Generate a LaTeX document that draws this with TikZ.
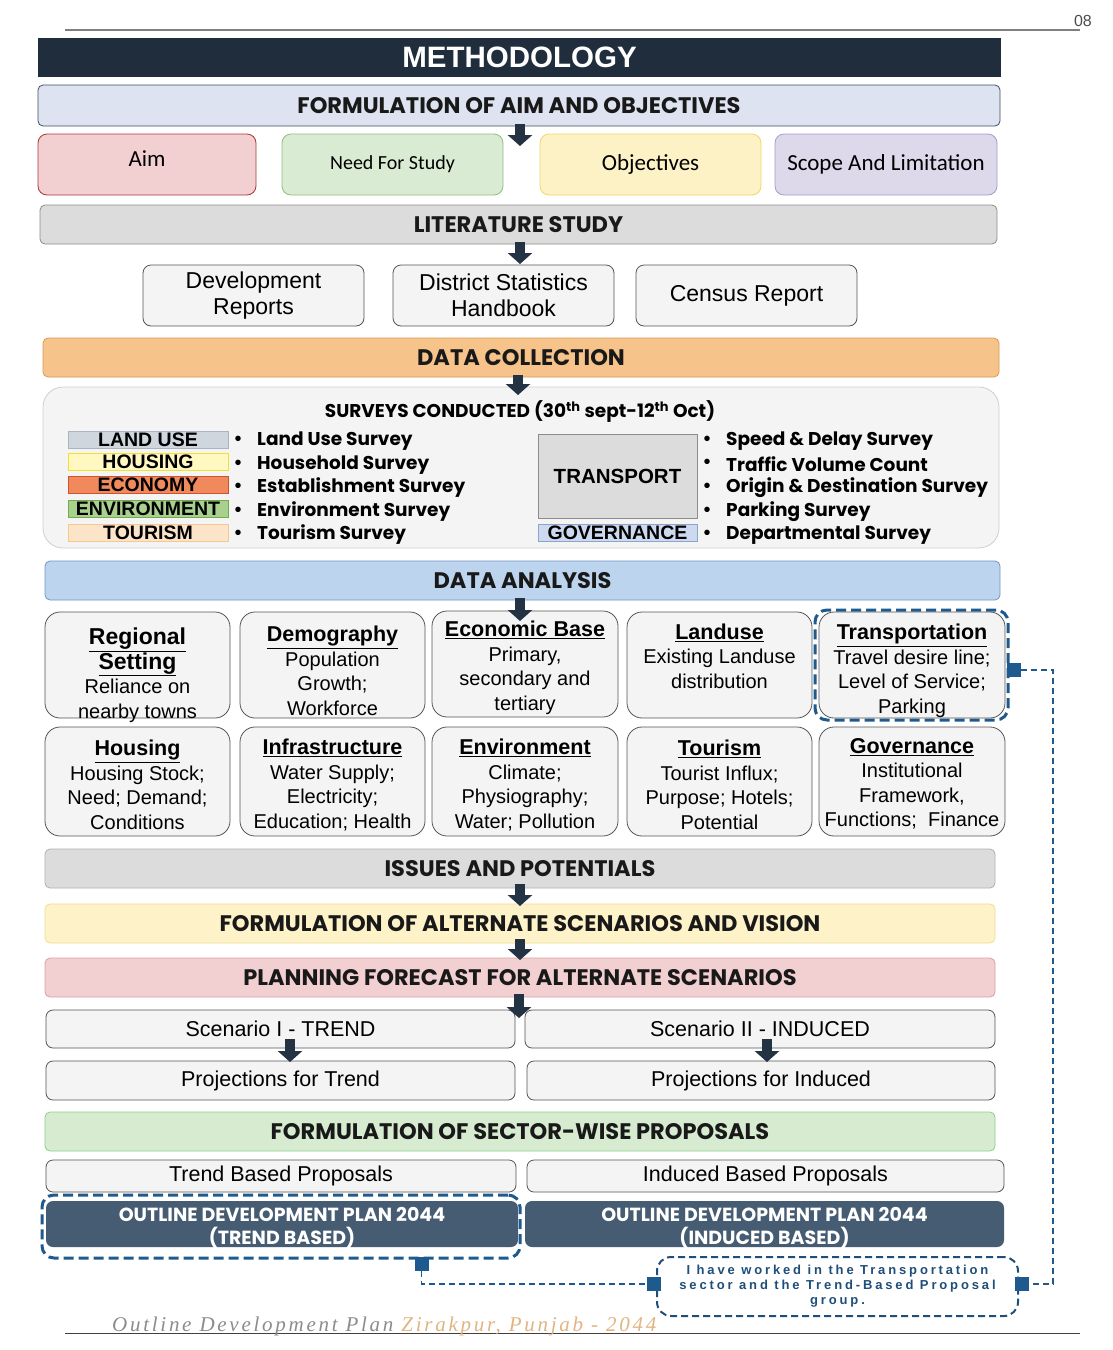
\documentclass[tikz,border=0pt]{standalone}
\usepackage{fontspec}
\setmainfont{Liberation Sans}
\newfontfamily\gothic{Poppins}
\newfontfamily\calib{Carlito}
\newfontfamily\notefont[LetterSpace=22]{Liberation Sans}
\newfontfamily\footf[LetterSpace=13]{Liberation Serif}
\usetikzlibrary{arrows.meta}
\definecolor{navy}{HTML}{1F2D3D}
\definecolor{arrowc}{HTML}{243344}
\definecolor{faofill}{HTML}{DDE3F1}
\definecolor{faodraw}{HTML}{3F4E63}
\definecolor{aimfill}{HTML}{F2CFD0}
\definecolor{aimdraw}{HTML}{A83838}
\definecolor{needfill}{HTML}{D9EBD3}
\definecolor{needdraw}{HTML}{8FBF80}
\definecolor{objfill}{HTML}{FDF1C6}
\definecolor{objdraw}{HTML}{EED866}
\definecolor{scopefill}{HTML}{DDD8EA}
\definecolor{scopedraw}{HTML}{A59CC8}
\definecolor{greyfill}{HTML}{DCDCDC}
\definecolor{greydraw}{HTML}{8C8C8C}
\definecolor{cellfill}{HTML}{F4F4F4}
\definecolor{celldraw}{HTML}{555555}
\definecolor{dcfill}{HTML}{F6C48A}
\definecolor{dcdraw}{HTML}{D99B55}
\definecolor{panelfill}{HTML}{F4F4F4}
\definecolor{paneldraw}{HTML}{CFCFCF}
\definecolor{dafill}{HTML}{BDD4EE}
\definecolor{dadraw}{HTML}{7196C2}
\definecolor{altfill}{HTML}{FDF2C8}
\definecolor{altdraw}{HTML}{F0DC90}
\definecolor{pffill}{HTML}{F2CFD0}
\definecolor{pfdraw}{HTML}{DDA0A2}
\definecolor{swfill}{HTML}{D6EBD0}
\definecolor{swdraw}{HTML}{8FCE8A}
\definecolor{odp}{HTML}{465C73}
\definecolor{hl}{HTML}{1F5A8F}
\definecolor{notec}{HTML}{1F4E79}
\definecolor{tlu}{HTML}{CFD6DD}
\definecolor{tlud}{HTML}{A9B4C0}
\definecolor{tho}{HTML}{FFF8C0}
\definecolor{thod}{HTML}{F2E030}
\definecolor{tec}{HTML}{F08A5D}
\definecolor{tecd}{HTML}{D05030}
\definecolor{ten}{HTML}{A9D08E}
\definecolor{tend}{HTML}{70AD47}
\definecolor{tto}{HTML}{FCE4C8}
\definecolor{ttod}{HTML}{F5C890}
\definecolor{tgo}{HTML}{CCD9EE}
\definecolor{tgod}{HTML}{8AA6CF}
\definecolor{foottan}{HTML}{E2B482}
\tikzset{
  bar/.style={draw, rounded corners=5pt, minimum height=39pt, inner sep=0pt, line width=0.8pt,
    font=\gothic\bfseries\fontsize{22.5}{26}\selectfont, text=black!90},
  topbox/.style={draw, rounded corners=9pt, minimum width=220pt, minimum height=61pt, inner sep=0pt, line width=0.8pt,
    font=\calib\fontsize{23}{26}\selectfont},
  litbox/.style={draw=celldraw, fill=cellfill, rounded corners=8pt, minimum width=221pt, minimum height=61pt,
    inner sep=0pt, align=center, line width=0.8pt, font=\fontsize{23}{26}\selectfont},
  cell/.style={draw=celldraw, fill=cellfill, rounded corners=15pt, inner sep=0pt, line width=0.8pt},
  celltext/.style={inner sep=0pt, align=center, font=\fontsize{20}{24.5}\selectfont},
  tag/.style={draw, line width=1pt, minimum width=160pt, minimum height=17pt, inner sep=0pt,
    font=\bfseries\fontsize{19.5}{19}\selectfont},
  survey/.style={anchor=west, inner sep=0pt, font=\gothic\bfseries\fontsize{18.5}{20}\selectfont},
  bul/.style={inner sep=0pt, font=\fontsize{20}{20}\selectfont},
  plain/.style={draw=celldraw, fill=cellfill, rounded corners=7pt, inner sep=0pt, line width=0.8pt,
    font=\fontsize{21.5}{24}\selectfont},
  odpbox/.style={fill=odp, rounded corners=7pt, inner sep=0pt},
  odptext/.style={inner sep=0pt, align=center, text=white, font=\gothic\bfseries\fontsize{19}{23}\selectfont},
  blockarrow/.style={draw=arrowc, line width=10pt, -{Triangle[width=24pt,length=11pt]}},
  hlbox/.style={draw=hl, line width=3pt, dash pattern=on 10pt off 5pt, rounded corners=12pt},
  marker/.style={fill=hl, minimum size=14pt, inner sep=0pt},
  hlline/.style={draw=hl, line width=1.6pt, dash pattern=on 6pt off 4pt},
}
\newcommand{\hd}[1]{{\fontsize{21.5}{24.5}\selectfont\bfseries\underline{#1}}}
\newcommand{\hdb}[1]{{\fontsize{23}{25.5}\selectfont\bfseries\underline{#1}}}
\begin{document}
\begin{tikzpicture}[x=1pt,y=-1pt]
\useasboundingbox[fill=white] (0,0) rectangle (1112,1350);
% header
\draw[gray, line width=1.2pt] (65,30) -- (1080,30);
\node[anchor=south east, inner sep=0pt, text=black!70, font=\fontsize{16}{16}\selectfont] (pg) at (1092,27) {08};
\node[fill=navy, minimum width=963pt, minimum height=39pt, inner sep=0pt, text=white,
  font=\bfseries\fontsize{29.5}{30}\selectfont] (meth) at (519.5,57.5) {METHODOLOGY};
% aim and objectives
\node[bar, fill=faofill, draw=faodraw, minimum width=962pt, minimum height=41pt] (fao) at (519,105.5) {FORMULATION OF AIM AND OBJECTIVES};
\node[topbox, fill=aimfill, draw=aimdraw, minimum width=218pt] (aim) at (147,164.5) {\raisebox{11pt}{Aim}};
\node[topbox, fill=needfill, draw=needdraw, minimum width=221pt, font=\calib\fontsize{20}{22}\selectfont] (need) at (392.5,164.5) {Need For Study};
\node[topbox, fill=objfill, draw=objdraw, minimum width=221pt] (obj) at (650.5,164.5) {Objectives};
\node[topbox, fill=scopefill, draw=scopedraw, minimum width=222pt] (scope) at (886,164.5) {Scope And Limitation};
\coordinate (a1e) at (520,146);
\draw[blockarrow] (520,124) -- (a1e);
% literature
\node[bar, fill=greyfill, draw=greydraw, minimum width=957pt] (lit) at (518.5,224.5) {LITERATURE STUDY};
\node[litbox] (dev) at (253.5,295.5) {Development\\Reports};
\node[litbox] (dist) at (503.5,295.5) {District Statistics\\Handbook};
\node[litbox] (cen) at (746.5,295.5) {Census Report};
\coordinate (a2e) at (520,264);
\draw[blockarrow] (520,242) -- (a2e);
% data collection
\node[bar, fill=dcfill, draw=dcdraw, minimum width=956pt] (dc) at (521,357.5) {DATA COLLECTION};
\node[draw=paneldraw, fill=panelfill, rounded corners=20pt, minimum width=956pt, minimum height=161pt, inner sep=0pt, line width=0.8pt] (panel) at (521,467.5) {};
\coordinate (a3e) at (518,395);
\draw[blockarrow] (518,375) -- (a3e);
\node[inner sep=0pt, font=\gothic\bfseries\fontsize{18.5}{20}\selectfont] (stitle) at (520,412) {SURVEYS CONDUCTED (30\textsuperscript{th} sept-12\textsuperscript{th} Oct)};
\node[tag, fill=tlu, draw=tlud] (tlu) at (148,439.5) {LAND USE};
\node[tag, fill=tho, draw=thod] (tho) at (148,461.5) {HOUSING};
\node[tag, fill=tec, draw=tecd] (tec) at (148,485) {ECONOMY};
\node[tag, fill=ten, draw=tend] (ten) at (148,509) {ENVIRONMENT};
\node[tag, fill=tto, draw=ttod] (tto) at (148,532.5) {TOURISM};
\foreach \y/\t [count=\i] in {441/Land Use Survey, 465/Household Survey, 488/Establishment Survey, 512/Environment Survey, 535/Tourism Survey}{
  \node[bul] (lb\i) at (238,\y) {•};
  \node[survey] (ls\i) at (257,\y) {\t};
}
\node[draw=greydraw, fill=greyfill, line width=1pt, minimum width=159pt, minimum height=84pt, inner sep=0pt,
  font=\bfseries\fontsize{20.5}{22}\selectfont] (trans) at (617.5,476) {TRANSPORT};
\node[tag, fill=tgo, draw=tgod, minimum width=159pt] (tgo) at (617.5,532.5) {GOVERNANCE};
\foreach \y/\t [count=\i] in {441/Speed \& Delay Survey, 464/Traffic Volume Count, 488/Origin \& Destination Survey, 512/Parking Survey, 535/Departmental Survey}{
  \node[bul] (rb\i) at (707,\y) {•};
  \node[survey] (rs\i) at (726,\y) {\t};
}
% data analysis
\node[bar, fill=dafill, draw=dadraw, minimum width=955pt] (da) at (522.5,580.5) {DATA ANALYSIS};
\node[cell, minimum width=185pt, minimum height=106pt] (c11) at (137.5,665) {};
\node[cell, minimum width=185pt, minimum height=106pt] (c12) at (332.5,665) {};
\node[cell, minimum width=186pt, minimum height=106pt] (c13) at (525,664) {};
\node[cell, minimum width=185pt, minimum height=106pt] (c14) at (719.5,665) {};
\node[cell, minimum width=186pt, minimum height=106pt] (c15) at (912,665) {};
\node[cell, minimum width=185pt, minimum height=109pt] (c21) at (137.5,781.5) {};
\node[cell, minimum width=185pt, minimum height=109pt] (c22) at (332.5,781.5) {};
\node[cell, minimum width=186pt, minimum height=109pt] (c23) at (525,781.5) {};
\node[cell, minimum width=185pt, minimum height=109pt] (c24) at (719.5,781.5) {};
\node[cell, minimum width=186pt, minimum height=109pt] (c25) at (912,781.5) {};
\node[celltext] (t11) at (137.5,675) {\hdb{Regional}\\\hdb{Setting}\\Reliance on\\nearby towns};
\node[celltext] (t12) at (332.5,671) {\hd{Demography}\\Population\\Growth;\\Workforce};
\node[celltext] (t13) at (525,668) {\hd{Economic Base}\\Primary,\\secondary and\\tertiary};
\node[celltext] (t14) at (719.5,672) {\hd{Landuse}\\Existing Landuse\\distribution\\\strut};
\node[celltext] (t15) at (912,671) {\hd{Transportation}\\Travel desire line;\\Level of Service;\\Parking};
\node[celltext] (t21) at (137.5,785) {\hd{Housing}\\Housing Stock;\\Need; Demand;\\Conditions};
\node[celltext] (t22) at (332.5,785) {\hd{Infrastructure}\\Water Supply;\\Electricity;\\Education; Health};
\node[celltext] (t23) at (525,785) {\hd{Environment}\\Climate;\\Physiography;\\Water; Pollution};
\node[celltext] (t24) at (719.5,785) {\hd{Tourism}\\Tourist Influx;\\Purpose; Hotels;\\Potential};
\node[celltext] (t25) at (912,784) {\hd{Governance}\\Institutional\\Framework,\\Functions;\ \ Finance};
\coordinate (a4e) at (520,621);
\draw[blockarrow] (520,598) -- (a4e);
\node[hlbox, minimum width=193pt, minimum height=110pt, inner sep=0pt] (hlt) at (911.5,665) {};
% issues etc.
\node[bar, fill=greyfill, draw=black!30, minimum width=950pt] (iss) at (520,868.5) {ISSUES AND POTENTIALS};
\node[bar, fill=altfill, draw=altdraw, minimum width=950pt] (alt) at (520,923.5) {FORMULATION OF ALTERNATE SCENARIOS AND VISION};
\node[bar, fill=pffill, draw=pfdraw, minimum width=950pt] (pf) at (520,977.5) {PLANNING FORECAST FOR ALTERNATE SCENARIOS};
\coordinate (a5e) at (520,906);
\coordinate (a6e) at (520,960);
\draw[blockarrow] (520,884) -- (a5e);
\draw[blockarrow] (520,939) -- (a6e);
% scenarios
\node[plain, minimum width=469pt, minimum height=38pt] (sc1) at (280.5,1029) {Scenario I - TREND};
\node[plain, minimum width=470pt, minimum height=38pt] (sc2) at (760,1029) {Scenario II - INDUCED};
\coordinate (a7e) at (519,1018);
\draw[blockarrow] (519,994) -- (a7e);
\node[plain, minimum width=469pt, minimum height=39pt] (pr1) at (280.5,1080.5) {Projections for Trend};
\node[plain, minimum width=468pt, minimum height=39pt] (pr2) at (761,1080.5) {Projections for Induced};
\coordinate (a8e) at (290,1062);
\coordinate (a9e) at (767,1062);
\draw[blockarrow] (290,1039) -- (a8e);
\draw[blockarrow] (767,1039) -- (a9e);
% proposals
\node[bar, fill=swfill, draw=swdraw, minimum width=950pt] (sw) at (520,1131.5) {FORMULATION OF SECTOR-WISE PROPOSALS};
\node[plain, minimum width=470pt, minimum height=32pt] (tbp) at (281,1176) {Trend Based Proposals};
\node[plain, minimum width=477pt, minimum height=32pt] (ibp) at (765.5,1176) {Induced Based Proposals};
\node[odpbox, minimum width=472pt, minimum height=46pt] (odp1) at (282,1224) {};
\node[odpbox, minimum width=479pt, minimum height=46pt] (odp2) at (764.5,1224) {};
\node[odptext] (odt1) at (282,1228) {OUTLINE DEVELOPMENT PLAN 2044\\(TREND BASED)};
\node[odptext] (odt2) at (764.5,1228) {OUTLINE DEVELOPMENT PLAN 2044\\(INDUCED BASED)};
\node[hlbox, minimum width=478pt, minimum height=63pt, inner sep=0pt] (hlo) at (281,1226.5) {};
% note
\node[draw=notec, line width=2pt, dash pattern=on 7pt off 4pt, rounded corners=14pt, minimum width=361pt, minimum height=59pt,
  inner sep=0pt, align=center, text=notec, font=\notefont\bfseries\fontsize{13}{15}\selectfont] (note) at (837.5,1286.5)
  {I have worked in the Transportation\\sector and the Trend-Based Proposal\\group.};
\node[marker] (m1) at (1014,670) {};
\node[marker] (m2) at (421.5,1264) {};
\node[marker] (m3) at (654,1284) {};
\node[marker] (m4) at (1022,1284) {};
\coordinate (r1) at (1053,670);
\coordinate (r2) at (1053,1284);
\coordinate (l1) at (421.5,1284);
\draw[hlline] (m1.east) -- (r1) -- (r2) -- (m4.east);
\draw[hlline] (m2.south) -- (l1) -- (m3.west);
% footer
\draw[black!75, line width=1pt] (65,1333) -- (1080,1333);
\node[anchor=south west, inner sep=0pt, font=\footf\itshape\fontsize{21}{22}\selectfont] (foot) at (112,1336)
  {\textcolor{black!45}{Outline Development Plan} \textcolor{foottan}{Zirakpur, Punjab - 2044}};
\end{tikzpicture}
\end{document}
